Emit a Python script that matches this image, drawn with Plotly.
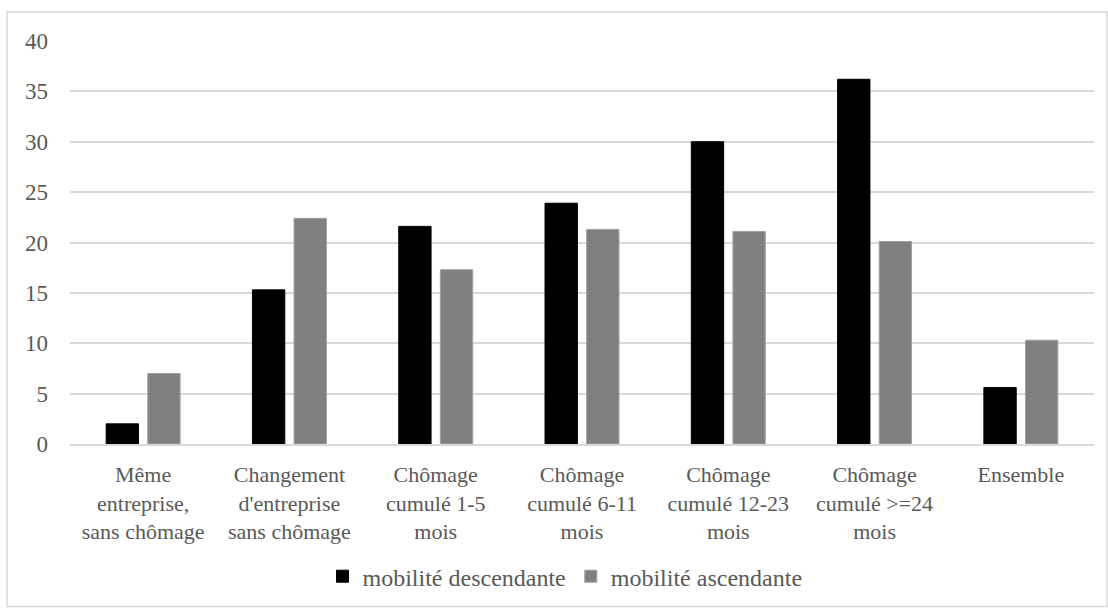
import plotly.graph_objects as go

categories = [
    "Même<br>entreprise,<br>sans chômage",
    "Changement<br>d'entreprise<br>sans chômage",
    "Chômage<br>cumulé 1-5<br>mois",
    "Chômage<br>cumulé 6-11<br>mois",
    "Chômage<br>cumulé 12-23<br>mois",
    "Chômage<br>cumulé >=24<br>mois",
    "Ensemble",
]
descendante = [2.0, 15.3, 21.6, 23.9, 30.0, 36.2, 5.6]
ascendante = [7.0, 22.4, 17.3, 21.3, 21.1, 20.1, 10.3]
y_ticks = [0, 5, 10, 15, 20, 25, 30, 35, 40]

FONT = "Liberation Serif"
TXT = "#595959"

fig = go.Figure()
fig.add_trace(go.Bar(
    x=categories, y=descendante, name="mobilité descendante",
    marker=dict(color="#000000", line=dict(color="#000000", width=1)),
))
fig.add_trace(go.Bar(
    x=categories, y=ascendante, name="mobilité ascendante",
    marker=dict(color="#808080", line=dict(color="#a0a0a0", width=1)),
))

L, R, T, B = 70, 14, 41, 164.7
W, H = 1108, 609
pw, ph = W - L - R, H - T - B

fig.update_layout(
    width=W, height=H,
    margin=dict(l=L, r=R, t=T, b=B, pad=0, autoexpand=False),
    paper_bgcolor="white", plot_bgcolor="white",
    barmode="group", bargap=0.431, bargroupgap=0.223,
    font=dict(family=FONT, size=22, color=TXT),
    showlegend=True,
    legend=dict(orientation="h", x=(565 - L) / pw, xanchor="center",
                y=(444.3 - 577) / ph, yanchor="middle",
                font=dict(family=FONT, size=24, color=TXT),
                itemwidth=30, traceorder="normal"),
    shapes=[dict(type="rect", xref="paper", yref="paper",
                 x0=(7 - L) / pw, x1=(1107 - L) / pw,
                 y0=(444.3 - 607) / ph, y1=(444.3 - 12) / ph,
                 line=dict(color="#d9d9d9", width=1.5), fillcolor="rgba(0,0,0,0)",
                 layer="below")],
)
fig.update_yaxes(range=[0, 40], tickvals=y_ticks, showgrid=True,
                 gridcolor="#d9d9d9", gridwidth=1.5, zeroline=False,
                 showline=False, ticks="", ticklabelstandoff=21, automargin=False,
                 tickfont=dict(family=FONT, size=23, color=TXT))
fig.update_xaxes(showline=True, linecolor="#d9d9d9", linewidth=1.5,
                 ticks="", ticklabelstandoff=10, automargin=False,
                 tickfont=dict(family=FONT, size=22, color=TXT))

fig.write_html("out.html", config={"displayModeBar": False},
               post_script="document.body.style.margin='0';document.body.style.padding='0';")
